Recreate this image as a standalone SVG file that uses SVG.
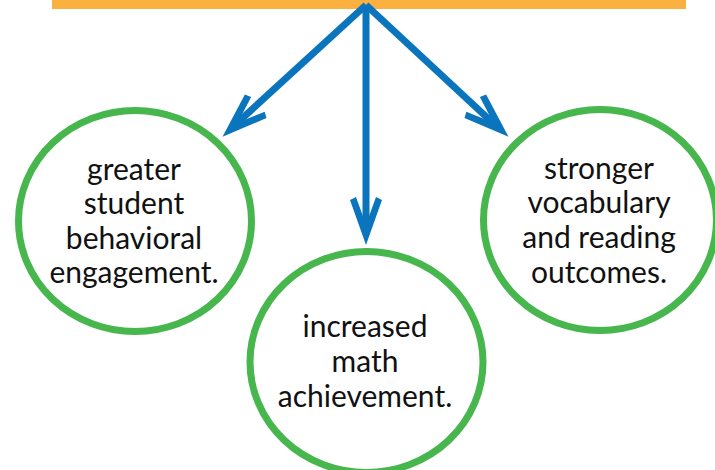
<svg xmlns="http://www.w3.org/2000/svg" width="715" height="470" viewBox="0 0 715 470">
<style>
.bar{fill:#fbb040}
.node ellipse{fill:none;stroke:#46b64d;stroke-width:7}
.node text{font-family:Lato,"Liberation Sans",sans-serif;font-size:30px;fill:#111;text-anchor:middle}
.conn line{stroke:#0a75bc;stroke-width:7;fill:none}
.head{fill:#0a75bc}
</style>
<defs>
<path id="ah" d="M0,0 L-45,-16 L-48,-10 L-26,-2 L-26,2 L-48,10 L-45,16 Z"/>
</defs>
<rect id="bar" class="bar" x="52" y="-2" width="634" height="11"/>
<g id="connectors" class="conn">
<line x1="366" y1="5" x2="366" y2="225"/>
<line x1="366" y1="5" x2="236" y2="124"/>
<line x1="366" y1="5" x2="494" y2="124"/>
<use href="#ah" class="head" transform="translate(366,245) rotate(90)"/>
<use href="#ah" class="head" transform="translate(222.5,136.7) rotate(137.5)"/>
<use href="#ah" class="head" transform="translate(508.5,136.7) rotate(42.5)"/>
</g>
<g id="node-left" class="node">
<ellipse cx="135" cy="221" rx="116.5" ry="110.5"/>
<text x="134" y="180">greater</text>
<text x="134" y="214">student</text>
<text x="134" y="249">behavioral</text>
<text x="134" y="283">engagement.</text>
</g>
<g id="node-middle" class="node">
<ellipse cx="366.5" cy="362" rx="116.5" ry="110.5"/>
<text x="365" y="337">increased</text>
<text x="365" y="372">math</text>
<text x="365" y="407">achievement.</text>
</g>
<g id="node-right" class="node">
<ellipse cx="600" cy="220" rx="116.5" ry="110.5"/>
<text x="599" y="179">stronger</text>
<text x="599" y="213">vocabulary</text>
<text x="599" y="248">and reading</text>
<text x="599" y="283">outcomes.</text>
</g>
</svg>
